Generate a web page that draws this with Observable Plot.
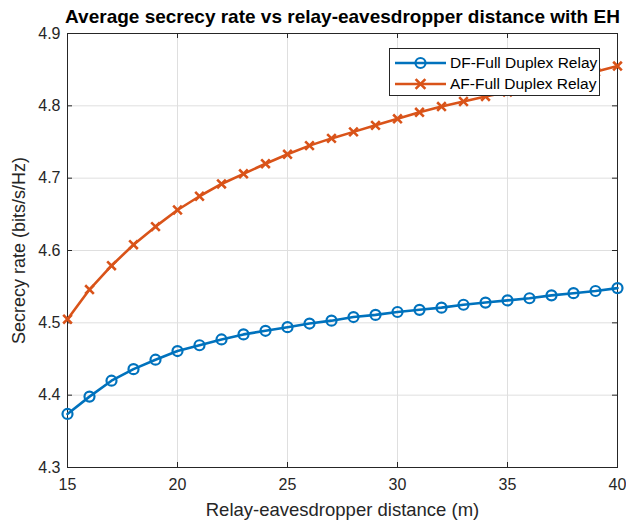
<!DOCTYPE html>
<html><head><meta charset="utf-8">
<script src="https://cdn.jsdelivr.net/npm/d3@7"></script>
<script src="https://cdn.jsdelivr.net/npm/@observablehq/plot@0.6"></script>
<style>
body{margin:0;background:#fff;}
#wrap{position:relative;width:626px;height:521px;font-family:"Liberation Sans",Arial,Helvetica,sans-serif;color:#262626;}
#legend{position:absolute;left:389px;top:48px;width:211px;height:48px;border:1px solid #262626;background:#fff;box-sizing:border-box;}
#legend .row{position:absolute;left:0;height:20px;display:flex;align-items:center;font-size:15.5px;color:#000;white-space:nowrap;}
#legend svg{display:block;}
</style></head><body><div id="wrap"></div>
<script>
const distance = [15,16,17,18,19,20,21,22,23,24,25,26,27,28,29,30,31,32,33,34,35,36,37,38,39,40];
const dfRate = [4.374,4.398,4.420,4.436,4.449,4.461,4.469,4.477,4.484,4.489,4.494,4.499,4.503,4.508,4.511,4.515,4.518,4.521,4.525,4.528,4.531,4.534,4.538,4.541,4.544,4.548];
const afRate = [4.505,4.546,4.579,4.608,4.633,4.656,4.675,4.692,4.706,4.720,4.733,4.745,4.755,4.764,4.773,4.782,4.791,4.799,4.806,4.813,4.819,4.826,4.833,4.840,4.847,4.855];
const xTicks = [15,20,25,30,35,40];
const yTicks = [4.3,4.4,4.5,4.6,4.7,4.8,4.9];
const seriesNames = ["DF-Full Duplex Relay","AF-Full Duplex Relay"];
const colors = ["#0072BD","#D95319"];
const titleText = "Average secrecy rate vs relay-eavesdropper distance with EH";
const xLabel = "Relay-eavesdropper distance (m)";
const yLabel = "Secrecy rate (bits/s/Hz)";

const df = distance.map((d,i)=>({d, v: dfRate[i]}));
const af = distance.map((d,i)=>({d, v: afRate[i]}));

const W=626, H=521, mL=67, mR=9, mT=33, mB=54;
const fh = H-mT-mB, fw = W-mL-mR, tk = 5;
const axisColor = "#262626";

const chart = Plot.plot({
  width: W, height: H,
  marginLeft: mL, marginRight: mR, marginTop: mT, marginBottom: mB,
  style: {fontFamily: '"Liberation Sans", Arial, Helvetica, sans-serif', fontSize: "16px", color: axisColor, background: "#fff"},
  x: {domain: [15,40]},
  y: {domain: [4.3,4.9]},
  marks: [
    Plot.gridX(xTicks, {stroke: "#dfdfdf", strokeOpacity: 1}),
    Plot.gridY(yTicks, {stroke: "#dfdfdf", strokeOpacity: 1}),
    Plot.axisX(xTicks, {tickSize: 0, tickPadding: 11, label: null, tickFormat: d=>String(d), fill: axisColor, fontSize: 16}),
    Plot.axisY(yTicks, {tickSize: 0, tickPadding: 7, label: null, tickFormat: d=>d.toFixed(1), fill: axisColor, fontSize: 16}),
    Plot.tickX(xTicks, {x: d=>d, insetTop: fh-tk, stroke: axisColor}),
    Plot.tickX(xTicks, {x: d=>d, insetBottom: fh-tk, stroke: axisColor}),
    Plot.tickY(yTicks, {y: d=>d, insetRight: fw-tk, stroke: axisColor}),
    Plot.tickY(yTicks, {y: d=>d, insetLeft: fw-tk, stroke: axisColor}),
    Plot.frame({stroke: axisColor, strokeWidth: 1}),
    Plot.line(af, {x: "d", y: "v", stroke: colors[1], strokeWidth: 2.6}),
    Plot.dot(af, {x: "d", y: "v", stroke: colors[1], symbol: "times", r: 4, strokeWidth: 2.6}),
    Plot.line(df, {x: "d", y: "v", stroke: colors[0], strokeWidth: 2.6}),
    Plot.dot(df, {x: "d", y: "v", stroke: colors[0], fill: "none", r: 5, strokeWidth: 2.2}),
    Plot.text([titleText], {frameAnchor: "top", dy: -17, text: d=>d, fontWeight: "bold", fontSize: 19, fill: "#000", textAnchor: "middle", lineAnchor: "middle"}),
    Plot.text([xLabel], {frameAnchor: "bottom", dy: 43, text: d=>d, fontSize: 18.5, fill: axisColor, textAnchor: "middle", lineAnchor: "middle"}),
    Plot.text([yLabel], {frameAnchor: "left", dx: -48, rotate: -90, text: d=>d, fontSize: 18, fill: axisColor, textAnchor: "middle", lineAnchor: "middle"})
  ]
});

const wrap = document.getElementById("wrap");
wrap.appendChild(chart);

// legend (HTML overlay)
const leg = document.createElement("div");
leg.id = "legend";
const rowsTop = [4, 25];
seriesNames.forEach((name, i) => {
  const row = document.createElement("div");
  row.className = "row";
  row.style.top = rowsTop[i] + "px";
  const s = d3.create("svg").attr("width", 60).attr("height", 20);
  s.append("line").attr("x1", 5).attr("x2", 56).attr("y1", 10).attr("y2", 10)
    .attr("stroke", colors[i]).attr("stroke-width", 2.6);
  if (i === 0) {
    s.append("circle").attr("cx", 30.5).attr("cy", 10).attr("r", 5).attr("fill", "none")
      .attr("stroke", colors[i]).attr("stroke-width", 2.2);
  } else {
    s.append("path").attr("transform", "translate(30.5,10)")
      .attr("d", d3.symbol(d3.symbolTimes, 64)())
      .attr("fill", "none").attr("stroke", colors[i]).attr("stroke-width", 2.6);
  }
  row.appendChild(s.node());
  const t = document.createElement("span");
  t.textContent = name;
  row.appendChild(t);
  leg.appendChild(row);
});
wrap.appendChild(leg);
</script>
</body></html>
